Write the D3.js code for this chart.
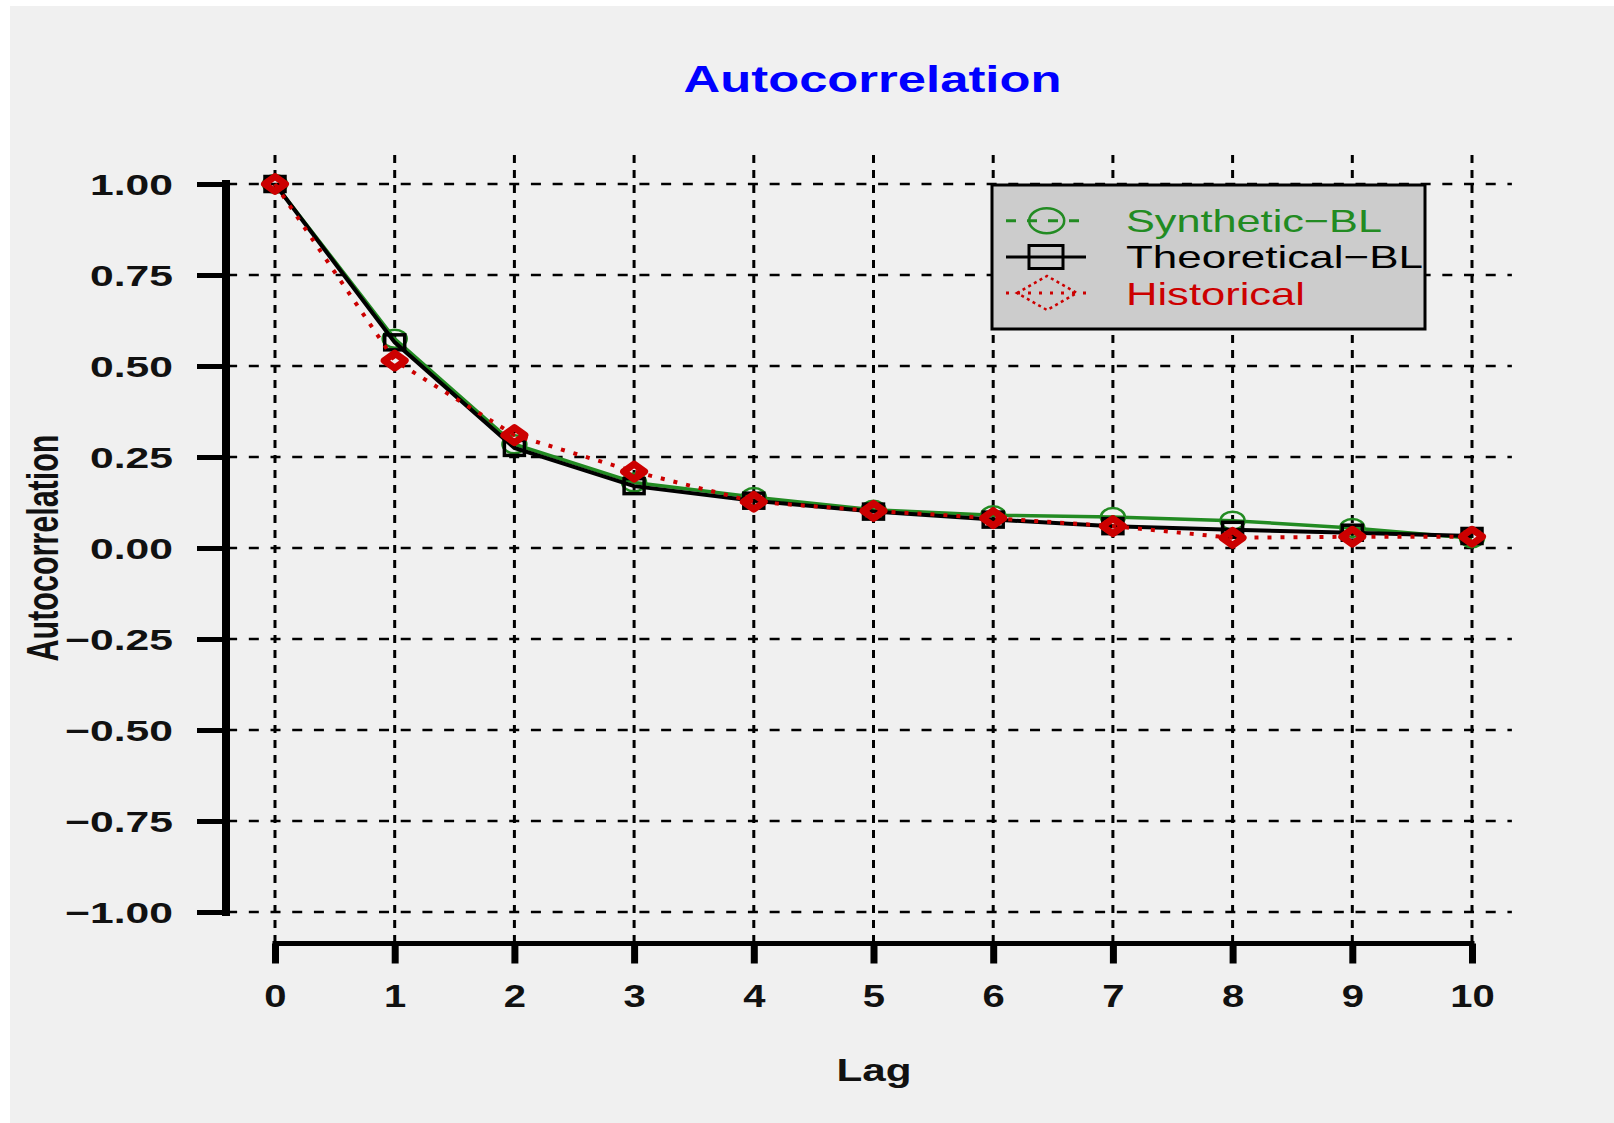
<!DOCTYPE html>
<html>
<head>
<meta charset="utf-8">
<script src="https://cdn.jsdelivr.net/npm/d3@7"></script>
<style>
  body { margin: 0; background: #ffffff; }
  svg text { font-family: "Liberation Sans", Arial, sans-serif; }
</style>
</head>
<body>
<svg id="chart"></svg>
<script>
// data
var lags = [0, 1, 2, 3, 4, 5, 6, 7, 8, 9, 10];
var synthetic   = [1.00, 0.575, 0.285, 0.180, 0.140, 0.105, 0.090, 0.085, 0.075, 0.055, 0.027];
var theoretical = [1.00, 0.565, 0.275, 0.170, 0.130, 0.100, 0.078, 0.060, 0.050, 0.042, 0.033];
var historical  = [1.00, 0.515, 0.310, 0.210, 0.127, 0.102, 0.082, 0.060, 0.028, 0.031, 0.031];
var yTicks = [-1, -0.75, -0.5, -0.25, 0, 0.25, 0.5, 0.75, 1];
var seriesNames = ["Synthetic\u2212BL", "Theoretical\u2212BL", "Historical"];

var W = 1614, H = 1123;
var green = "#228b22", red = "#cc0000";

var svg = d3.select("#chart")
    .attr("width", W)
    .attr("height", H);

// page background
svg.append("rect").attr("width", W).attr("height", H).attr("fill", "#ffffff");
svg.append("rect").attr("x", 10).attr("y", 6).attr("width", W - 10).attr("height", H - 6).attr("fill", "#f0f0f0");

// scales
var x = d3.scaleLinear().domain([0, 10]).range([275, 1472]);
var y = d3.scaleLinear().domain([-1, 1]).range([912, 184]);

// plot region (4% padding like R)
var regionX = [x(-0.4), x(10.4)];
var regionY = [y(1.08), y(-1.08)];

// grid
svg.append("g").selectAll("line")
    .data(yTicks)
    .enter().append("line")
    .attr("x1", regionX[0]).attr("x2", regionX[1] - 8)
    .attr("y1", function(d) { return y(d); })
    .attr("y2", function(d) { return y(d); })
    .attr("stroke", "#000").attr("stroke-width", 2.5)
    .attr("stroke-dasharray", "10,11.7");

svg.append("g").selectAll("line")
    .data(lags)
    .enter().append("line")
    .attr("x1", function(d) { return x(d); })
    .attr("x2", function(d) { return x(d); })
    .attr("y1", regionY[0]).attr("y2", regionY[1])
    .attr("stroke", "#000").attr("stroke-width", 3)
    .attr("stroke-dasharray", "8,7");

// helper for the horizontally stretched text of the original
function stretchText(g, tx, ty, sx, sy) {
  return g.append("text")
      .attr("transform", "translate(" + tx + "," + ty + ") scale(" + sx + "," + sy + ")");
}

// Y axis
var yAxis = svg.append("g")
    .attr("transform", "translate(226,0)")
    .call(d3.axisLeft(y).tickValues(yTicks).tickSize(29).tickSizeOuter(0)
          .tickFormat(d3.format(".2f")));
yAxis.select(".domain").attr("stroke-width", 8).attr("stroke-linecap", "square")
    .attr("d", "M0," + y(1) + "V" + y(-1));
yAxis.selectAll(".tick line").attr("stroke-width", 5);
yAxis.selectAll(".tick text")
    .attr("x", null).attr("dy", null)
    .attr("transform", "translate(-53,10.5) scale(1.47,1)")
    .attr("text-anchor", "end")
    .style("font-size", "29px")
    .style("font-weight", "bold")
    .attr("fill", "#111");

// X axis
var xAxis = svg.append("g")
    .attr("transform", "translate(0,943.5)")
    .call(d3.axisBottom(x).tickValues(lags).tickSize(20).tickSizeOuter(0)
          .tickFormat(d3.format("d")));
xAxis.select(".domain").attr("stroke-width", 5).attr("stroke-linecap", "square")
    .attr("d", "M" + x(0) + ",0H" + x(10));
xAxis.selectAll(".tick line").attr("stroke-width", 7);
xAxis.selectAll(".tick text")
    .attr("y", null).attr("dy", null)
    .attr("transform", "translate(0,63.5) scale(1.25,1)")
    .attr("text-anchor", "middle")
    .style("font-size", "32px")
    .style("font-weight", "bold")
    .attr("fill", "#111");

// lines
var line = d3.line()
    .x(function(d, i) { return x(lags[i]); })
    .y(function(d) { return y(d); });

svg.append("path").datum(synthetic)
    .attr("d", line).attr("fill", "none")
    .attr("stroke", green).attr("stroke-width", 3.5);
svg.append("g").selectAll("ellipse")
    .data(synthetic).enter().append("ellipse")
    .attr("cx", function(d, i) { return x(lags[i]); })
    .attr("cy", function(d) { return y(d); })
    .attr("rx", 12).attr("ry", 9)
    .attr("fill", "none").attr("stroke", green).attr("stroke-width", 2.5);

svg.append("path").datum(theoretical)
    .attr("d", line).attr("fill", "none")
    .attr("stroke", "#000").attr("stroke-width", 4);
svg.append("g").selectAll("rect")
    .data(theoretical).enter().append("rect")
    .attr("x", function(d, i) { return x(lags[i]) - 10; })
    .attr("y", function(d) { return y(d) - 7.5; })
    .attr("width", 20).attr("height", 15)
    .attr("fill", "none").attr("stroke", "#000").attr("stroke-width", 3.5);

svg.append("path").datum(historical)
    .attr("d", line).attr("fill", "none")
    .attr("stroke", red).attr("stroke-width", 4)
    .attr("stroke-dasharray", "4,9");

function diamond(cx, cy, hw, hh) {
  return "M" + (cx - hw) + "," + cy + "L" + cx + "," + (cy - hh) +
         "L" + (cx + hw) + "," + cy + "L" + cx + "," + (cy + hh) + "Z";
}
// heavy diamonds, they read as round blobs in the original
svg.append("g").selectAll("path")
    .data(historical).enter().append("path")
    .attr("d", function(d, i) { return diamond(x(lags[i]), y(d), 10.5, 7.5); })
    .attr("fill", "none").attr("stroke", red).attr("stroke-width", 7)
    .attr("stroke-linejoin", "round");

// legend
var legend = svg.append("g");
legend.append("rect")
    .attr("x", 992).attr("y", 185).attr("width", 433).attr("height", 144)
    .attr("fill", "#cccccc").attr("stroke", "#000").attr("stroke-width", 3);

// Synthetic-BL
legend.append("line").attr("x1", 1006).attr("x2", 1086).attr("y1", 220.7).attr("y2", 220.7)
    .attr("stroke", green).attr("stroke-width", 3).attr("stroke-dasharray", "10,11");
legend.append("ellipse").attr("cx", 1046.7).attr("cy", 220.7).attr("rx", 17.5).attr("ry", 12.5)
    .attr("fill", "none").attr("stroke", green).attr("stroke-width", 2.5);
// Theoretical-BL
legend.append("line").attr("x1", 1006).attr("x2", 1086).attr("y1", 257).attr("y2", 257)
    .attr("stroke", "#000").attr("stroke-width", 3);
legend.append("rect").attr("x", 1029).attr("y", 245.5).attr("width", 34).attr("height", 23)
    .attr("fill", "none").attr("stroke", "#000").attr("stroke-width", 3);
// Historical
legend.append("line").attr("x1", 1006).attr("x2", 1086).attr("y1", 293).attr("y2", 293)
    .attr("stroke", red).attr("stroke-width", 3).attr("stroke-dasharray", "3,8");
legend.append("path").attr("d", diamond(1047, 293, 30, 17))
    .attr("fill", "none").attr("stroke", red).attr("stroke-width", 2.5)
    .attr("stroke-dasharray", "3,3.5");

var legendColours = [green, "#000", red];
var legendBase = [231.7, 268.3, 305];
var legendLen = [256, 297, 179];
legend.selectAll("text")
    .data(seriesNames).enter().append("text")
    .attr("x", 1126)
    .attr("y", function(d, i) { return legendBase[i]; })
    .attr("textLength", function(d, i) { return legendLen[i]; })
    .attr("lengthAdjust", "spacingAndGlyphs")
    .attr("fill", function(d, i) { return legendColours[i]; })
    .style("font-size", "32px")
    .text(function(d) { return d; });

// title
stretchText(svg, 872.5, 92.3, 1.41, 1)
    .attr("text-anchor", "middle")
    .style("font-size", "36px")
    .style("font-weight", "bold")
    .attr("fill", "#0000ff")
    .text("Autocorrelation");

// x axis title
stretchText(svg, 874, 1080.7, 1.32, 1)
    .attr("text-anchor", "middle")
    .style("font-size", "32px")
    .style("font-weight", "bold")
    .attr("fill", "#111")
    .text("Lag");

// y axis title
svg.append("text")
    .attr("transform", "translate(58,548) rotate(-90) scale(1,1.45)")
    .attr("text-anchor", "middle")
    .attr("textLength", 227)
    .attr("lengthAdjust", "spacingAndGlyphs")
    .style("font-size", "31px")
    .style("font-weight", "bold")
    .attr("fill", "#111")
    .text("Autocorrelation");
</script>
</body>
</html>
